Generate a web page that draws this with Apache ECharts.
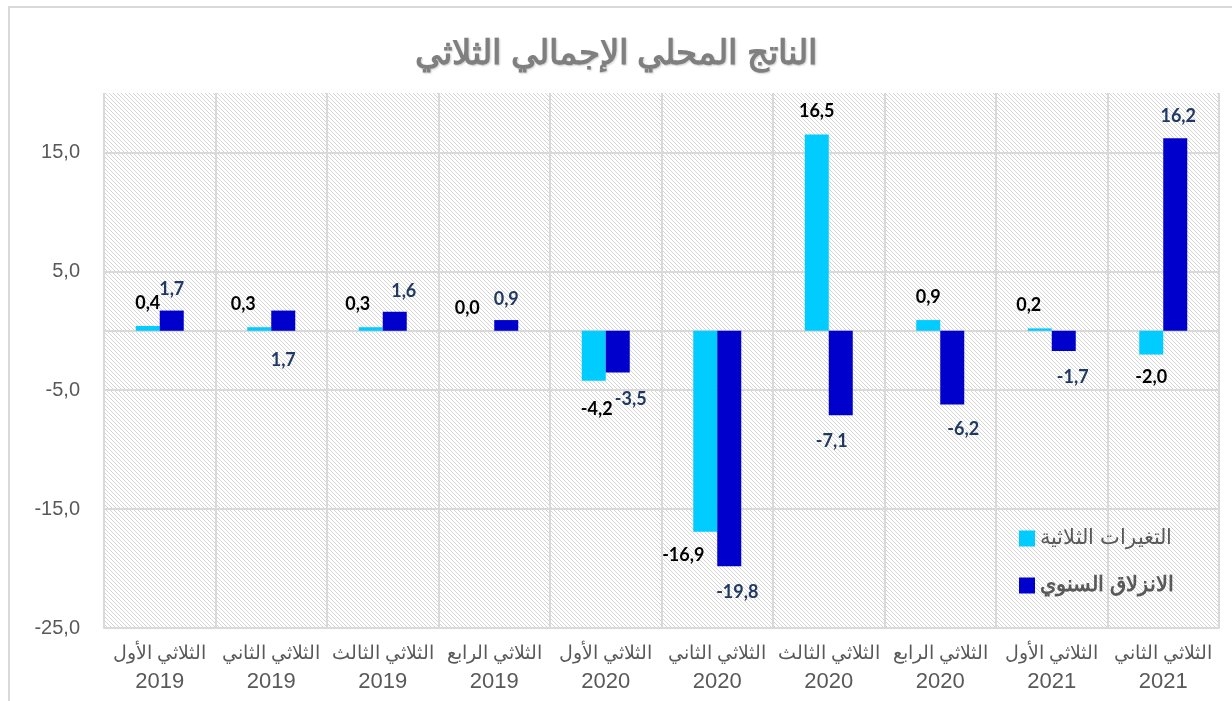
<!DOCTYPE html>
<html>
<head>
<meta charset="utf-8">
<script src="https://cdn.jsdelivr.net/npm/echarts@6/dist/echarts.min.js"></script>
<style>
html, body { margin: 0; padding: 0; background: #fff; }
#main { width: 1232px; height: 701px; }
</style>
</head>
<body>
<div id="main"></div>
<script>
// الفئات والقيم
var quarters = ['الثلاثي الأول', 'الثلاثي الثاني', 'الثلاثي الثالث', 'الثلاثي الرابع',
  'الثلاثي الأول', 'الثلاثي الثاني', 'الثلاثي الثالث', 'الثلاثي الرابع',
  'الثلاثي الأول', 'الثلاثي الثاني'];
var years = ['2019', '2019', '2019', '2019', '2020', '2020', '2020', '2020', '2021', '2021'];
var quarterlyChange = [0.4, 0.3, 0.3, 0.0, -4.2, -16.9, 16.5, 0.9, 0.2, -2.0];
var yearlyChange = [1.7, 1.7, 1.6, 0.9, -3.5, -19.8, -7.1, -6.2, -1.7, 16.2];
var seriesNames = ['التغيرات الثلاثية', 'الانزلاق السنوي'];
var yMin = -25, yMax = 20, yStep = 10;

// label nudges (px), as placed in the original
var shift1 = [[0, 0], [-16, 0], [-13, 0], [-15, 0], [3, 5], [-22, 0], [0, 0], [0, 0], [-11, 0], [0, 0]];
var shift2 = [[0, 2], [0, 73], [9, 2], [0, 2], [13, 4], [8, 3], [-9, 3], [11, 2], [9, 3], [3, 1]];

var categories = quarters.map(function (q, i) { return q + '\n' + years[i]; });

// hatched plot background
var tile = document.createElement('canvas');
tile.width = 4; tile.height = 4;
var ctx = tile.getContext('2d');
ctx.fillStyle = '#ffffff';
ctx.fillRect(0, 0, 4, 4);
ctx.fillStyle = '#d4d4d4';
for (var i = 0; i < 4; i++) ctx.fillRect(i, i, 1, 1);

function fmt(v) { return v.toFixed(1).replace('.', ','); }

function buildItems(values, shifts) {
  return values.map(function (v, i) {
    return { value: v, label: { position: v < 0 ? 'bottom' : 'top', offset: shifts[i] } };
  });
}

var myChart = echarts.init(document.getElementById('main'));

var option = {
  backgroundColor: '#ffffff',
  title: {
    text: 'الناتج المحلي الإجمالي الثلاثي',
    left: 'center',
    top: 33,
    textStyle: {
      fontFamily: 'Liberation Sans',
      fontSize: 34,
      fontWeight: 'bold',
      color: '#7f7f7f',
      textShadowColor: 'rgba(0,0,0,0.2)',
      textShadowBlur: 2,
      textShadowOffsetX: 1,
      textShadowOffsetY: 1
    }
  },
  graphic: [{
    type: 'rect',
    silent: true,
    z: -10,
    shape: { x: 9, y: 7, width: 1300, height: 800 },
    style: { fill: 'none', stroke: '#d9d9d9', lineWidth: 2 }
  }],
  legend: {
    orient: 'vertical',
    left: 1014,
    top: 523,
    itemGap: 26,
    itemWidth: 16,
    itemHeight: 16,
    icon: 'rect',
    textStyle: { fontFamily: 'Liberation Sans', fontSize: 21, color: '#595959' },
    data: [
      { name: seriesNames[0] },
      { name: seriesNames[1], textStyle: { fontWeight: 'bold' } }
    ]
  },
  grid: {
    left: 104,
    right: 13,
    top: 93,
    bottom: 73,
    show: true,
    borderWidth: 0,
    backgroundColor: { image: tile, repeat: 'repeat' }
  },
  xAxis: [{
    type: 'category',
    data: categories,
    axisLine: { onZero: false, lineStyle: { color: '#d9d9d9', width: 2 } },
    axisTick: { show: false },
    splitLine: { show: true, lineStyle: { color: '#d9d9d9', width: 2 } },
    axisLabel: {
      interval: 0,
      margin: 12,
      color: '#595959',
      fontFamily: 'Liberation Sans',
      formatter: function (v) {
        var parts = v.split('\n');
        return '{q|' + parts[0] + '}\n{y|' + parts[1] + '}';
      },
      rich: {
        q: { fontFamily: 'Liberation Sans', fontSize: 19, color: '#595959', lineHeight: 28 },
        y: { fontFamily: 'Liberation Sans', fontSize: 22, color: '#595959', lineHeight: 28 }
      }
    }
  }, {
    // zero line
    type: 'category',
    data: categories,
    axisLine: { onZero: true, lineStyle: { color: '#d9d9d9', width: 2 } },
    axisTick: { show: false },
    axisLabel: { show: false },
    splitLine: { show: false }
  }],
  yAxis: {
    type: 'value',
    min: yMin,
    max: yMax,
    interval: yStep,
    axisLine: { show: false },
    axisTick: { show: false },
    splitLine: { show: true, showMaxLine: false, lineStyle: { color: '#d9d9d9', width: 2 } },
    axisLabel: {
      showMaxLabel: false,
      margin: 24,
      color: '#595959',
      fontFamily: 'Liberation Sans',
      fontSize: 20,
      formatter: function (v) { return v === yMax ? '' : fmt(v); }
    }
  },
  series: [{
    name: seriesNames[0],
    type: 'bar',
    barWidth: 24,
    barGap: '0%',
    itemStyle: { color: '#00ccff' },
    label: {
      show: true,
      distance: 14,
      color: '#000000',
      fontFamily: 'Lato',
      fontWeight: 'bold',
      fontSize: 18,
      formatter: function (p) { return fmt(p.value); }
    },
    data: buildItems(quarterlyChange, shift1)
  }, {
    name: seriesNames[1],
    type: 'bar',
    barWidth: 24,
    barGap: '0%',
    itemStyle: { color: '#0000cc' },
    label: {
      show: true,
      distance: 14,
      color: '#1f3864',
      fontFamily: 'Lato',
      fontWeight: 'bold',
      fontSize: 18,
      formatter: function (p) { return fmt(p.value); }
    },
    data: buildItems(yearlyChange, shift2)
  }]
};

myChart.setOption(option);
</script>
</body>
</html>
